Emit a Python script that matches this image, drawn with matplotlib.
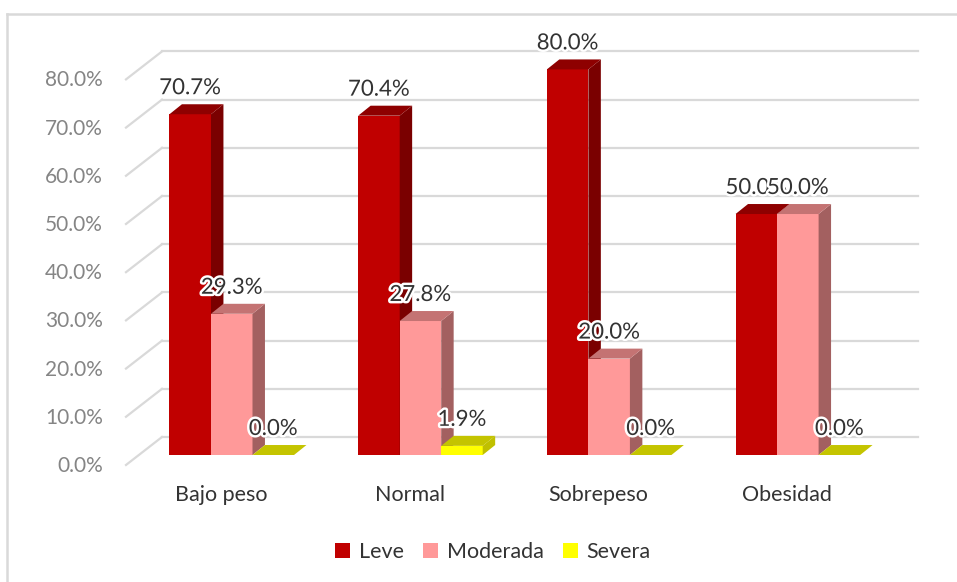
import matplotlib.pyplot as plt
from matplotlib.patches import Polygon, Rectangle, Patch
from matplotlib.lines import Line2D
import matplotlib.patheffects as pe

plt.rcParams['font.family'] = ['Lato', 'DejaVu Sans']

categories = ['Bajo peso', 'Normal', 'Sobrepeso', 'Obesidad']
series = ['Leve', 'Moderada', 'Severa']
leve = [70.7, 70.4, 80.0, 50.0]
moderada = [29.3, 27.8, 20.0, 50.0]
severa = [0.0, 1.9, 0.0, 0.0]
yticks = [0, 10, 20, 30, 40, 50, 60, 70, 80]

# front, side, top colours per series
colors = [
    ('#C00000', '#7A0000', '#8E0000'),
    ('#FF9999', '#A36060', '#C47373'),
    ('#FFFF00', '#C0C000', '#C4C400'),
]

w = 0.22          # bar width (category units)
ddx, ddy = 0.066, 2.07   # bar depth
back_dx, back_dy = -0.3696, 3.73
front_x = -0.5604
wall_end = 3.6367

fig = plt.figure(figsize=(9.57, 5.82), dpi=100)
ax = fig.add_axes([0, 0, 1, 1])
ax.set_xlim(-1.2281, 3.8434)
ax.set_ylim(-26.35, 94.40)
ax.axis('off')

grid_c = '#D9D9D9'
for g in yticks:
    ax.plot([back_dx, wall_end], [g + back_dy, g + back_dy], color=grid_c, lw=1.6, zorder=1)
    ax.plot([front_x, back_dx], [g - 2.07, g + back_dy], color=grid_c, lw=1.6, zorder=1)
    ax.text(-0.6823, g - 2.3, f'{g:.1f}%', ha='right', va='center',
            fontsize=15, color='#858585')

glow = [pe.withStroke(linewidth=3.5, foreground='white')]
data = [leve, moderada, severa]
for i, cat in enumerate(categories):
    for k, vals in enumerate(data):
        h = vals[i]
        x = i - 1.5 * w + k * w
        fc, sc, tc = colors[k]
        ax.add_patch(Rectangle((x, 0), w, h, facecolor=fc, edgecolor='none', zorder=2))
        ax.add_patch(Polygon([(x + w, 0), (x + w + ddx, ddy), (x + w + ddx, h + ddy), (x + w, h)],
                             facecolor=sc, edgecolor='none', zorder=2))
        ax.add_patch(Polygon([(x, h), (x + ddx, h + ddy), (x + w + ddx, h + ddy), (x + w, h)],
                             facecolor=tc, edgecolor='none', zorder=2))
    ax.text(i - 0.058, -8.3, cat, ha='center', va='center', fontsize=15.5, color='#333333')

# data labels (Leve/Moderada overlap on Obesidad as in the original)
for i in range(len(categories)):
    for k, vals in enumerate(data):
        h = vals[i]
        xc = i - 1.5 * w + k * w + w / 2
        ax.text(xc, h + 5.4, f'{h:.1f}%', ha='center', va='center', fontsize=16,
                color='#333333', path_effects=glow, zorder=5)

# chart area border (left and top)
fig.add_artist(Line2D([7 / 957, 7 / 957], [0, 1 - 14 / 582], color=grid_c, lw=1.8))
fig.add_artist(Line2D([7 / 957, 1], [1 - 14 / 582, 1 - 14 / 582], color=grid_c, lw=1.8))

handles = [Patch(facecolor=c[0]) for c in colors]
fig.legend(handles, series, loc='center', bbox_to_anchor=(0.515, 0.052), ncol=3,
           frameon=False, handlelength=0.7, handleheight=0.7, handletextpad=0.4,
           columnspacing=0.9, fontsize=15.5, labelcolor='#333333')

fig.savefig('out.png', dpi=100)
